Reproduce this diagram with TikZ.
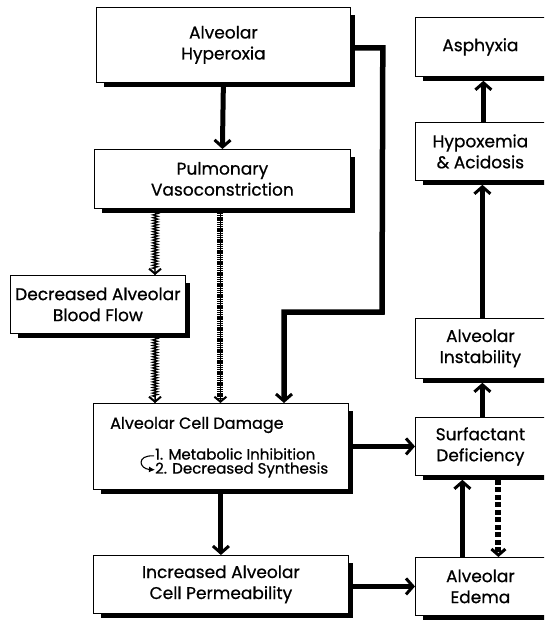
\documentclass[tikz,border=0pt]{standalone}
\usepackage{fontspec}
\setmainfont{Poppins}[FakeBold=0.7]
\usetikzlibrary{arrows.meta,calc,decorations.pathmorphing}

% L-shaped heavy drop shade along the bottom and right side of a box
\newcommand\dropshade[1]{%
  \draw[line width=4pt] ([xshift=8pt,yshift=-2pt]#1.south west)
    -- ([xshift=2pt,yshift=-2pt]#1.south east)
    -- ([xshift=2pt,yshift=-8pt]#1.north east);}

\begin{document}
\begin{tikzpicture}[x=1pt,y=-1pt,
  box/.style={draw, line width=0.8pt, fill=white, anchor=north west,
    inner sep=0pt, align=center, font=\fontsize{17}{21}\selectfont},
  bigarrow/.style={line width=5pt,
    -{Straight Barb[length=7pt,width=16pt,line width=3pt]}},
  ladderarrow/.style={line width=0.8pt,
    -{Straight Barb[length=5pt,width=12pt,line width=2pt]},
    postaction={draw, -, line width=6pt, dash pattern=on 1.3pt off 0.9pt, shorten >=5pt}},
  ropearrow/.style={line width=0.8pt,
    -{Straight Barb[length=5pt,width=12pt,line width=2pt]},
    postaction={draw, -, decorate, line width=1.2pt,
      decoration={zigzag, segment length=2.8pt, amplitude=2.6pt, post length=6pt}}},
  dasharrow/.style={line width=6pt, dash pattern=on 5pt off 2.5pt,
    -{Straight Barb[length=6pt,width=14pt,line width=3pt]}},
]
\useasboundingbox (0,0) rectangle (544,620);
\clip (0,0) rectangle (544,620);

% left and centre column
\node[box, minimum width=254pt, minimum height=75pt] (hyp) at (96,7) {Alveolar\\Hyperoxia};
\node[box, minimum width=256pt, minimum height=59pt] (pulm) at (94,149) {Pulmonary\\Vasoconstriction};
\node[box, minimum width=175pt, minimum height=58pt] (flow) at (10,275) {Decreased Alveolar\\Blood Flow};
\node[box, minimum width=255pt, minimum height=86pt] (cell) at (93,403) {};
\node[box, minimum width=255pt, minimum height=58pt] (incr) at (93,555) {Increased Alveolar\\Cell Permeability};

% right column
\node[box, minimum width=130pt, minimum height=59pt] (asph) at (415,17) {Asphyxia};
\node[box, minimum width=130pt, minimum height=58pt] (hypox) at (415,122) {Hypoxemia\\\& Acidosis};
\node[box, minimum width=130pt, minimum height=60pt] (inst) at (415,318) {Alveolar\\Instability};
\node[box, minimum width=130pt, minimum height=58pt] (surf) at (415,417) {Surfactant\\Deficiency};
\node[box, minimum width=130pt, minimum height=58pt] (edema) at (415,557) {Alveolar\\Edema};

\foreach \b in {hyp,pulm,flow,cell,incr,asph,hypox,inst,surf,edema}{\dropshade{\b}}

% contents of the cell damage box
\node[anchor=west, inner sep=0pt, font=\fontsize{16}{19}\selectfont] (celltitle)
  at ($(cell.north west)+(17,22)$) {Alveolar Cell Damage};
\node[anchor=north west, inner sep=0pt, align=left, font=\fontsize{15}{14}\selectfont] (celllist)
  at ($(cell.north west)+(62,45)$) {1. Metabolic Inhibition\\2. Decreased Synthesis};
\draw[line width=1.1pt, -{Latex[length=6pt,width=6pt]}]
  ($(celllist.west)+(-1,-7)$) .. controls +(-18,-1) and +(-16,-1) .. ($(celllist.west)+(0,7)$);

% connectors
\draw[bigarrow] (hyp.south) -- (pulm.north);
\coordinate (loopA) at ($(hyp.east)+(32,3)$);
\coordinate (loopB) at (382,312);
\coordinate (loopC) at (284,312);
\draw[line width=5.5pt, -{Straight Barb[length=7pt,width=16pt,line width=3pt]}]
  ($(hyp.east)+(3,3)$) -- (loopA) -- (loopB) -- (loopC) -- (loopC |- cell.north);

\draw[ropearrow] ($(pulm.south)+(-67,4)$) -- ($(flow.north west)+(145,0)$);
\draw[ladderarrow] ($(pulm.south)+(-2,4)$) -- ($(cell.north)+(-0.5,0)$);
\draw[ropearrow] ($(flow.south west)+(145,4)$) -- ($(cell.north west)+(62,0)$);

\draw[bigarrow] (cell.south) -- (incr.north);
\draw[bigarrow] ($(cell.east |- surf.west)+(4,0)$) -- (surf.west);
\draw[bigarrow] ($(incr.east |- edema.west)+(4,0)$) -- (edema.west);

\draw[bigarrow] ($(edema.north)+(-18,0)$) -- ($(surf.south)+(-18,4)$);
\draw[dasharrow] ($(surf.south)+(18,4)$) -- ($(edema.north)+(18,0)$);
\draw[bigarrow] ($(surf.north)+(2,0)$) -- ($(inst.south)+(2,4)$);
\draw[bigarrow] ($(inst.north)+(2,0)$) -- ($(hypox.south)+(2,4)$);
\draw[bigarrow] ($(hypox.north)+(3,0)$) -- ($(asph.south)+(3,4)$);
\end{tikzpicture}
\end{document}
